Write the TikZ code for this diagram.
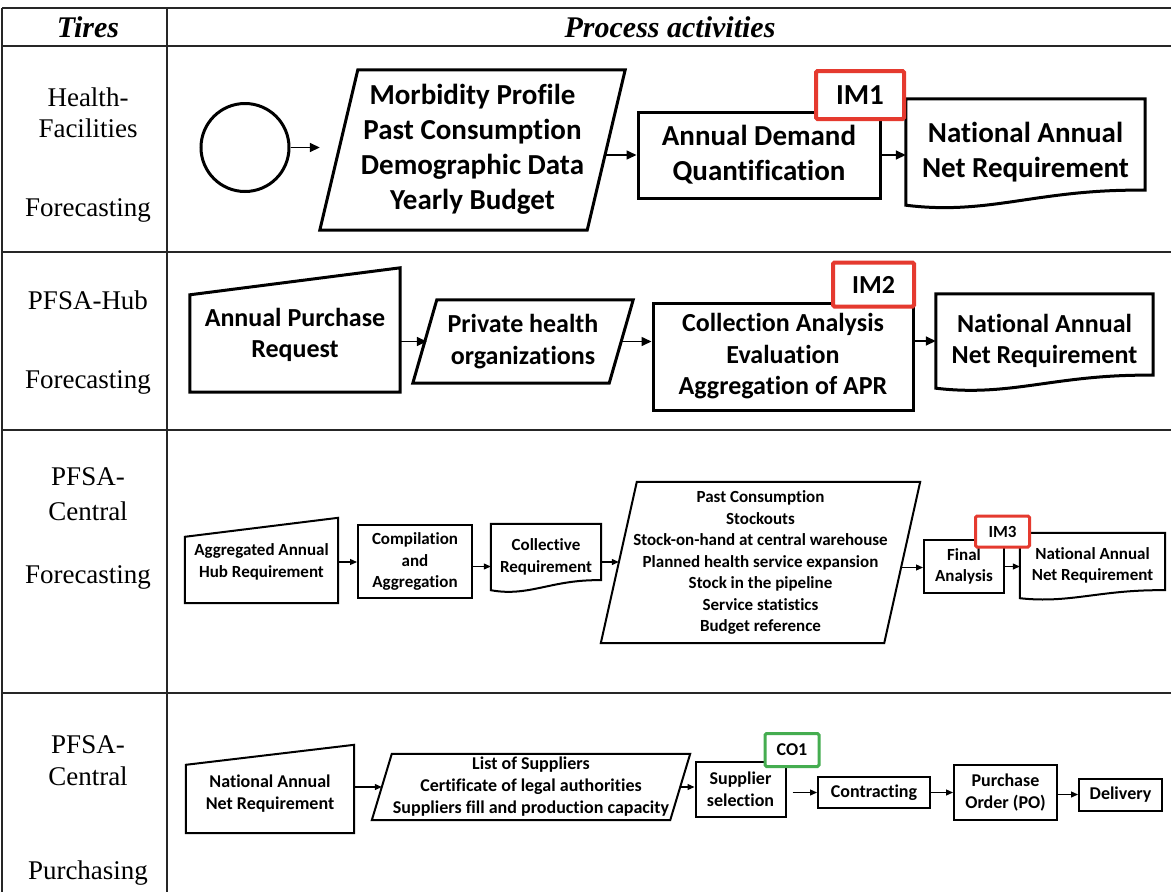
\documentclass[tikz,border=0pt]{standalone}
\usepackage{fontspec}
\setmainfont{Liberation Serif}
\newfontfamily\cb[Ligatures=NoCommon]{Carlito}
\usetikzlibrary{arrows.meta,calc}
\definecolor{imred}{HTML}{E53A2F}
\definecolor{cogreen}{HTML}{45AD50}
\newcommand\docshape[3]{\draw[#1] (#2.south west) -- (#2.north west) -- (#2.north east) -- ($(#2.south east)+(0,-#3)$) .. controls ($(#2.south west)!0.55!(#2.south east)+(0,-#3*1.1)$) and ($(#2.south west)!0.35!(#2.south east)+(0,#3*0.7)$) .. (#2.south west) -- cycle;}
\newcommand\maninput[4]{\draw[#1] (#2.south west) -- ($(#2.north west)+(0,#3)$) -- ($(#2.north east)+(0,#4)$) -- (#2.south east) -- cycle;}
\newcommand\paragram[3]{\draw[#1] ($(#2.north west)+(#3,0)$) -- ($(#2.north east)+(#3,0)$) -- ($(#2.south east)+(-#3,0)$) -- ($(#2.south west)+(-#3,0)$) -- cycle;}
\tikzset{
  tbl/.style={line width=1.3pt, draw=black!85},
  lbl/.style={font=\fontsize{27}{31}\selectfont, align=center, inner sep=0pt},
  hdr/.style={font=\fontsize{30}{34}\selectfont\bfseries\itshape, inner sep=0pt},
  shpA/.style={draw, line width=3pt, line join=miter},
  shpB/.style={draw, line width=2pt, line join=miter},
  holder/.style={inner sep=0pt, align=center},
  tA/.style={font=\cb\bfseries\fontsize{29}{35}\selectfont},
  tB/.style={font=\cb\bfseries\fontsize{26}{31.5}\selectfont},
  tC/.style={font=\cb\bfseries\fontsize{17}{21.5}\selectfont},
  tD/.style={font=\cb\bfseries\fontsize{18}{22}\selectfont},
  arrA/.style={-{Triangle[length=10pt,width=9pt]}, line width=1.6pt},
  arrB/.style={-{Triangle[length=7pt,width=6pt]}, line width=1.2pt},
  imbox/.style={draw=imred, line width=4pt, fill=white, rounded corners=1.5pt, inner sep=0pt},
  cobox/.style={draw=cogreen, line width=3pt, fill=white, rounded corners=1.5pt, inner sep=0pt},
}
\begin{document}
\begin{tikzpicture}[x=1pt,y=-1pt]
\useasboundingbox (0,0) rectangle (1171,892);
\fill[white] (0,0) rectangle (1171,892);
% table
\draw[tbl] (2,8) -- (1171,8);
\draw[tbl] (2,46) -- (1171,46);
\draw[tbl] (2,252) -- (1171,252);
\draw[tbl] (2,430) -- (1171,430);
\draw[tbl] (2,693) -- (1171,693);
\draw[tbl] (2,8) -- (2,892);
\draw[tbl] (167,8) -- (167,892);
\node[hdr] (h1) at (88,27) {Tires};
\node[hdr] (h2) at (670,27) {Process activities};
\node[lbl] (l1a) at (88,113) {Health-\\Facilities};
\node[lbl] (l1b) at (88,210) {Forecasting};
\node[lbl] (l2a) at (88,300) {PFSA-Hub};
\node[lbl] (l2b) at (88,382) {Forecasting};
\node[lbl] (l3a) at (88,494.5) {PFSA-\\[4pt]Central};
\node[lbl] (l3b) at (88,577) {Forecasting};
\node[lbl] (l4a) at (88,761) {PFSA-\\[1pt]Central};
\node[lbl] (l4b) at (88,873) {Purchasing};

% Row 1
\node[draw, circle, line width=3pt, minimum size=88, inner sep=0pt] (c0) at (245,147.5) {};
\node[holder, tA, minimum width=267, minimum height=160] (p1) at (472.5,150) {\raisebox{-3pt}{\begin{tabular}{@{}c@{}}Morbidity Profile\\Past Consumption\\Demographic Data\\Yearly Budget\end{tabular}}};
\paragram{shpA}{p1}{19}
\node[holder, tA, shpA, minimum width=242, minimum height=86] (b1) at (759,155) {Annual Demand\\Quantification};
\node[holder, tA, minimum width=239, minimum height=106] (d1) at (1025.5,152) {National Annual\\Net Requirement};
\docshape{shpA}{d1}{15}
\node[imbox, tA, minimum width=88, minimum height=48] (im1) at (860,95) {IM1};
\draw[arrA, shorten >=19pt] (c0.east) -- (c0.east -| p1.west);
\draw[arrA] (p1.east |- b1.west) -- (b1.west);
\draw[arrA] (b1.east) -- (b1.east -| d1.west);

% Row 2
\node[holder, tB, minimum width=210, minimum height=114] (m2) at (295,335) {Annual Purchase\\Request};
\maninput{shpA}{m2}{17}{-10}
\node[holder, tB, minimum width=196, minimum height=83] (p2) at (523,341.5) {Private health\\organizations};
\paragram{shpA}{p2}{12}
\node[holder, tB, shpA, minimum width=260, minimum height=107] (b2) at (783,356.5) {Collection Analysis\\Evaluation\\Aggregation of APR};
\node[holder, tB, minimum width=217, minimum height=94] (d2) at (1044.5,341) {National Annual\\Net Requirement};
\docshape{shpA}{d2}{13}
\node[imbox, tB, minimum width=81, minimum height=44] (im2) at (873.5,284.5) {IM2};
\draw[arrA] (m2.east |- p2.west) -- ([xshift=2pt]p2.west);
\draw[arrA] (p2.east) -- (p2.east -| b2.west);
\draw[arrA] (b2.east |- d2.west) -- (d2.west);

% Row 3
\node[holder, tC, minimum width=153, minimum height=82] (m3) at (261.5,562) {Aggregated Annual\\Hub Requirement};
\maninput{shpB}{m3}{16}{-3}
\node[holder, tC, shpB, minimum width=114, minimum height=73] (b3a) at (415,561.5) {Compilation\\and\\Aggregation};
\node[holder, tC, minimum width=110, minimum height=66] (d3a) at (546,557) {Collective\\Requirement};
\docshape{shpB}{d3a}{10}
\node[holder, tC, minimum width=283, minimum height=161] (p3) at (760.5,562.5) {Past Consumption\\Stockouts\\Stock-on-hand at central warehouse\\Planned health service expansion\\Stock in the pipeline\\Service statistics\\Budget reference};
\paragram{shpB}{p3}{18}
\node[holder, tC, shpB, minimum width=80, minimum height=53] (b3b) at (964,566.5) {Final\\Analysis};
\node[holder, tC, minimum width=145, minimum height=65] (d3b) at (1092.5,565.5) {National Annual\\Net Requirement};
\docshape{shpB}{d3b}{8}
\node[imbox, tC, line width=3pt, minimum width=54, minimum height=31] (im3) at (1002.5,531.5) {IM3};
\draw[arrB] (m3.east) -- (m3.east -| b3a.west);
\draw[arrB] ([yshift=-5pt]b3a.east) -- ([yshift=-5pt]b3a.east -| d3a.west);
\draw[arrB] ([yshift=-5pt]d3a.east) -- ([yshift=-5pt]d3a.east -| p3.west);
\draw[arrB] ([yshift=-5pt]p3.east) -- ([yshift=-5pt]p3.east -| b3b.west);
\draw[arrB] (b3b.east) -- (b3b.east -| d3b.west);

% Row 4
\node[holder, tD, minimum width=168, minimum height=78] (m4) at (270,794) {National Annual\\Net Requirement};
\maninput{shpB}{m4}{10}{-10}
\node[holder, tD, minimum width=298, minimum height=66] (p4) at (531,787) {List of Suppliers\\Certificate of legal authorities\\Suppliers fill and production capacity};
\paragram{shpB}{p4}{10}
\node[holder, tD, shpB, minimum width=90, minimum height=55] (b4a) at (740.5,789.5) {Supplier\\selection};
\node[holder, tD, shpB, minimum width=112, minimum height=31] (b4b) at (874,792.5) {Contracting};
\node[holder, tD, shpB, minimum width=103, minimum height=55] (b4c) at (1005.5,792.5) {Purchase\\Order (PO)};
\node[holder, tD, shpB, minimum width=83, minimum height=32] (b4d) at (1120.5,795) {Delivery};
\node[cobox, tD, minimum width=54, minimum height=33] (co1) at (792,750) {CO1};
\draw[arrB] (m4.east |- p4.west) -- (p4.west);
\draw[arrB] (p4.east) -- (p4.east -| b4a.west);
\draw[arrB, shorten <=6pt] ([yshift=-3pt]b4a.east) -- ([yshift=-3pt]b4a.east -| b4b.west);
\draw[arrB] (b4b.east) -- (b4b.east -| b4c.west);
\draw[arrB] ([yshift=-2pt]b4c.east) -- ([yshift=-2pt]b4c.east -| b4d.west);
\end{tikzpicture}
\end{document}
